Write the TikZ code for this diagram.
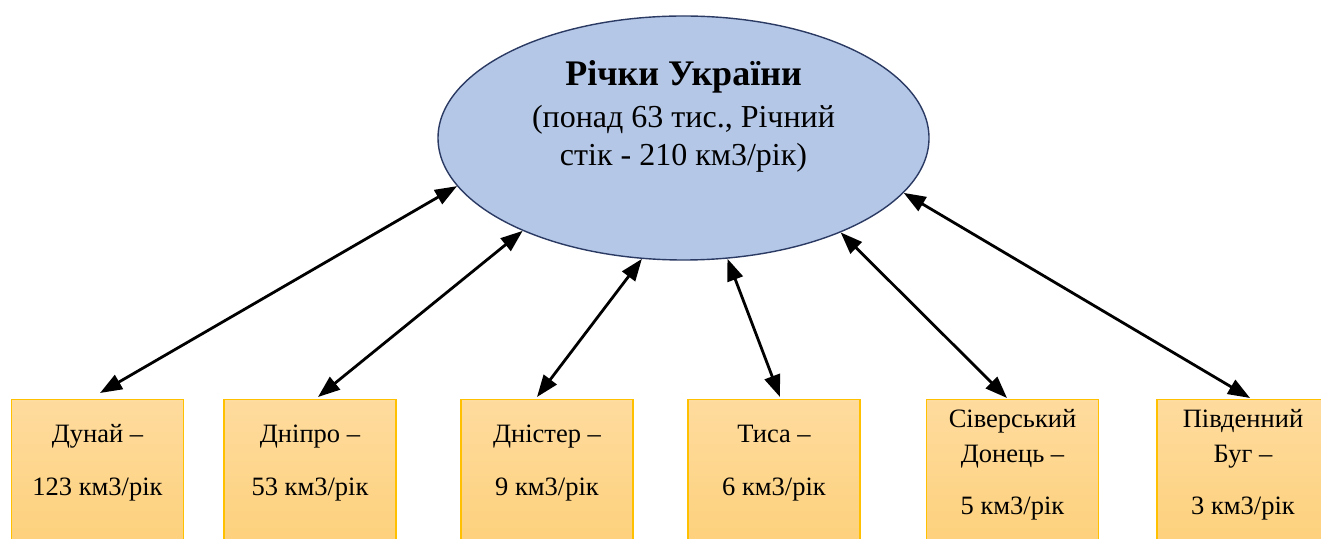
\documentclass[tikz,border=0pt]{standalone}
\usepackage{fontspec}
\setmainfont{Liberation Serif}
\usetikzlibrary{shapes.geometric,arrows.meta}
\definecolor{ellfill}{HTML}{B4C7E7}
\definecolor{elldraw}{HTML}{2B3A63}
\definecolor{boxborder}{HTML}{FFC000}
\definecolor{boxtop}{HTML}{FEDB9E}
\definecolor{boxbot}{HTML}{FDD07A}
\newcommand{\liftxt}[2]{\raisebox{#1}[\height][\depth]{\begin{tabular}{@{}c@{}}#2\end{tabular}}}
\begin{document}
\begin{tikzpicture}[x=1pt,y=1pt,
  river/.style={draw=boxborder, line width=1.5pt, top color=boxtop, bottom color=boxbot,
    minimum width=172pt, minimum height=151pt, anchor=north, inner sep=0pt,
    font=\fontsize{26.5}{35}\selectfont},
  conn/.style={line width=2.8pt, {Triangle[length=22pt,width=16pt]}-{Triangle[length=22pt,width=16pt]}}]
\useasboundingbox (0,0) rectangle (1321,538);
\node[ellipse, draw=elldraw, line width=1.4pt, fill=ellfill, minimum width=491pt, minimum height=244pt, inner sep=0pt,
  font=\fontsize{32}{38}\selectfont] (e) at (683.5,400)
  {\liftxt{20pt}{{\fontsize{36}{38}\selectfont\bfseries Річки України}\\[4pt] (понад 63 тис., Річний\\ стік - 210 км3/рік)}};
\node[river] (b1) at (97.5,139) {\liftxt{13pt}{Дунай –\\[18pt] 123 км3/рік}};
\node[river] (b2) at (310,139) {\liftxt{13pt}{Дніпро –\\[18pt] 53 км3/рік}};
\node[river] (b3) at (547,139) {\liftxt{13pt}{Дністер –\\[18pt] 9 км3/рік}};
\node[river] (b4) at (774,139) {\liftxt{13pt}{Тиса –\\[18pt] 6 км3/рік}};
\node[river] (b5) at (1012.5,139) {\liftxt{11pt}{Сіверський\\ Донець –\\[17pt] 5 км3/рік}};
\node[river] (b6) at (1243,139) {\liftxt{11pt}{Південний\\ Буг –\\[17pt] 3 км3/рік}};
\draw[conn] ([xshift=2.5pt,yshift=6pt]b1.north) -- (e.192.9);
\draw[conn] ([xshift=8pt,yshift=2pt]b2.north) -- (e.210.2);
\draw[conn] ([xshift=-10pt,yshift=2pt]b3.north) -- (e.251.1);
\draw[conn] ([xshift=6pt,yshift=2pt]b4.north) -- (e.290.2);
\draw[conn] ([xshift=-5.5pt,yshift=1pt]b5.north) -- (e.329.3);
\draw[conn] ([xshift=7pt,yshift=1pt]b6.north) -- (e.346.4);
\end{tikzpicture}
\end{document}
